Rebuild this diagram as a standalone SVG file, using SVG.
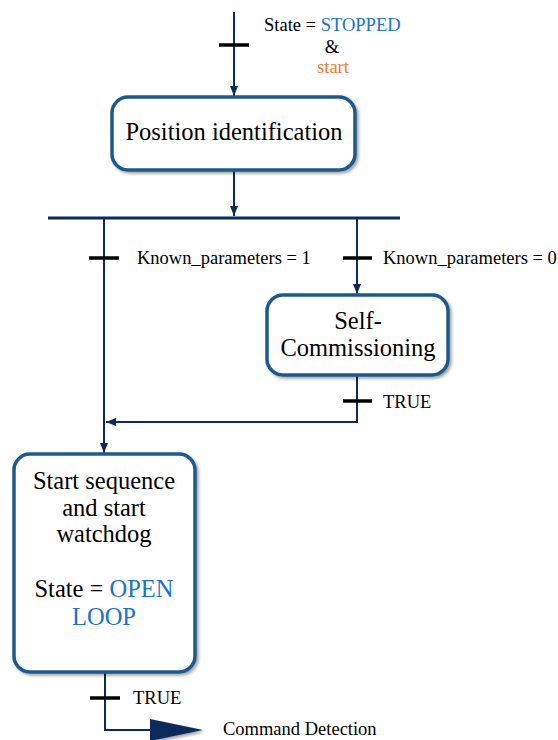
<svg xmlns="http://www.w3.org/2000/svg" width="558" height="740" viewBox="0 0 558 740">
<defs>
<filter id="sh" x="-10%" y="-10%" width="130%" height="130%">
<feDropShadow dx="2" dy="2" stdDeviation="1.5" flood-color="#000" flood-opacity="0.35"/>
</filter>
<marker id="a" viewBox="0 0 10 10" refX="10" refY="5" markerWidth="10" markerHeight="10" orient="auto" markerUnits="userSpaceOnUse">
<path d="M0,1 L10,5 L0,9 Z" fill="#0d2a5c"/>
</marker>
</defs>
<style>
.c{fill:none;stroke:#0d2a5c;stroke-width:2}
.bar{stroke:#0d2a5c;stroke-width:3}
.t{stroke:#000;stroke-width:3.5}
.box{fill:#fff;stroke:#1f5a8c;stroke-width:3.5;filter:url(#sh)}
.lbl{font-family:'Liberation Serif','Times New Roman',serif;font-size:18.5px;fill:#000}
.nt{font-family:'Liberation Serif','Times New Roman',serif;font-size:24.5px;fill:#000;text-anchor:middle}
.b{fill:#1a73c7}
.o{fill:#ed7d31}
</style>
<g id="connectors">
<line class="c" x1="234" y1="12" x2="234" y2="96" marker-end="url(#a)"/>
<line class="c" x1="234" y1="171" x2="234" y2="216" marker-end="url(#a)"/>
<line class="bar" x1="48" y1="218" x2="400" y2="218"/>
<line class="c" x1="104" y1="219" x2="104" y2="453" marker-end="url(#a)"/>
<line class="c" x1="357" y1="219" x2="357" y2="294" marker-end="url(#a)"/>
<polyline class="c" points="357,376 357,422 106,422" marker-end="url(#a)"/>
<polyline class="c" points="105,673 105,730 160,730"/>
<path d="M150,719 L203,730 L150,741 Z" fill="#0d2a5c" filter="url(#sh)"/>
<line class="t" x1="219" y1="45" x2="249" y2="45"/>
<line class="t" x1="89" y1="258" x2="119" y2="258"/>
<line class="t" x1="343" y1="258" x2="372" y2="258"/>
<line class="t" x1="343" y1="401" x2="372" y2="401"/>
<line class="t" x1="90" y1="698" x2="120" y2="698"/>
</g>
<g id="labels">
<text class="lbl" x="264" y="31">State = <tspan class="b">STOPPED</tspan></text>
<text class="lbl" x="332" y="53" text-anchor="middle">&amp;</text>
<text class="lbl o" x="333" y="73" text-anchor="middle">start</text>
<text class="lbl" x="137" y="264">Known_parameters = 1</text>
<text class="lbl" x="383" y="264">Known_parameters = 0</text>
<text class="lbl" x="383" y="408">TRUE</text>
<text class="lbl" x="133" y="704">TRUE</text>
<text class="lbl" x="223" y="735">Command Detection</text>
</g>
<g id="position-identification">
<rect class="box" x="112" y="97" width="243" height="73" rx="16"/>
<text class="nt" x="234" y="140">Position identification</text>
</g>
<g id="self-commissioning">
<rect class="box" x="267" y="295" width="181" height="80" rx="16"/>
<text class="nt" x="358" y="329">Self-</text>
<text class="nt" x="358" y="356">Commissioning</text>
</g>
<g id="start-sequence">
<rect class="box" x="14" y="454" width="181" height="218" rx="16"/>
<text class="nt" x="104" y="489">Start sequence</text>
<text class="nt" x="104" y="516">and start</text>
<text class="nt" x="104" y="542">watchdog</text>
<text class="nt" x="104" y="597">State = <tspan class="b">OPEN</tspan></text>
<text class="nt b" x="104" y="625">LOOP</text>
</g>
</svg>
